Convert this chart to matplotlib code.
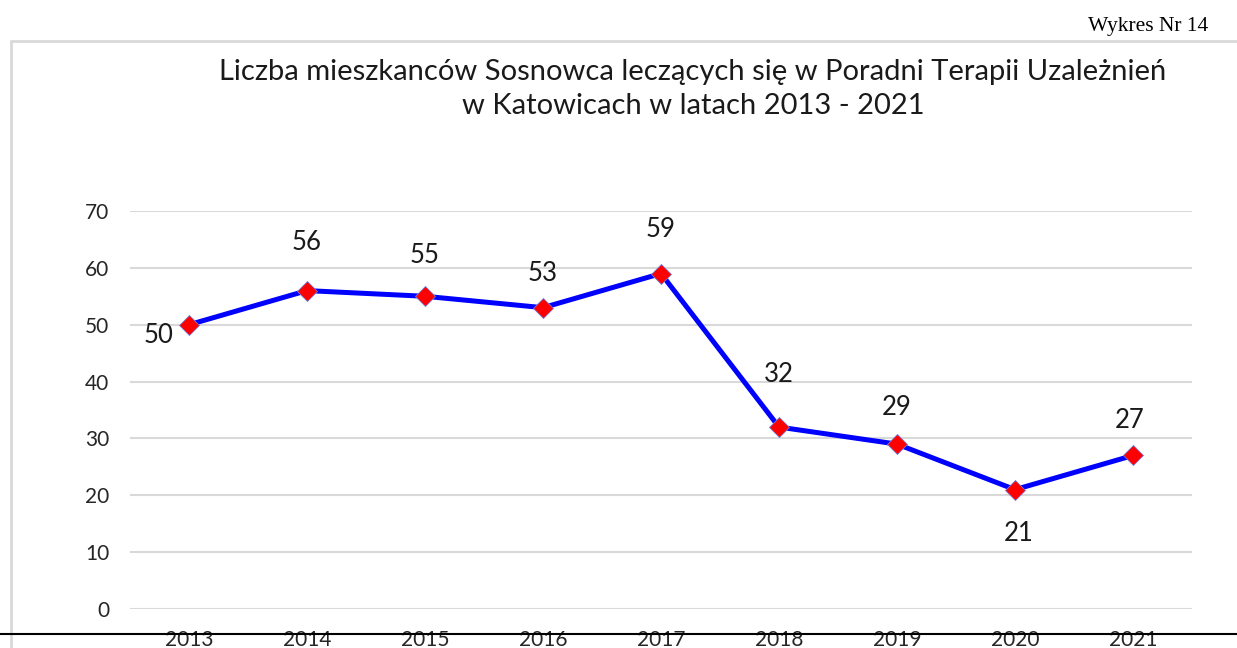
import matplotlib.pyplot as plt
from matplotlib.lines import Line2D
from matplotlib.patches import Rectangle

years = ["2013", "2014", "2015", "2016", "2017", "2018", "2019", "2020", "2021"]
patients = [50, 56, 55, 53, 59, 32, 29, 21, 27]
# label offset in pixels (dx, dy) relative to each point
label_offsets = [(-30, -11), (0, 48), (0, 41), (0, 34), (0, 44), (0, 53), (0, 37), (4, -44), (-3, 35)]
yticks = [0, 10, 20, 30, 40, 50, 60, 70]

W, H = 1237, 648
fig = plt.figure(figsize=(W / 100, H / 100), dpi=100)
px = 72 / 100  # points per pixel

# chart frame (clipped by page on right and bottom)
fig.patches.append(Rectangle((11 / W, -0.1), 1.2, (H - 41) / H + 0.1,
                             transform=fig.transFigure, fill=False,
                             edgecolor="#d9d9d9", linewidth=2.0))

ax = fig.add_axes([130 / W, 39 / H, 1062 / W, 398 / H])
x = list(range(len(years)))
ax.plot(x, patients, color="#0000ff", linewidth=3.6, zorder=3, clip_on=False)
ax.plot(x, patients, linestyle="none", marker="D", markersize=10.5,
        markerfacecolor="#ff0000", markeredgecolor="#7a7ad0",
        markeredgewidth=0.6, zorder=4, clip_on=False)

for xi, v, (dx, dy) in zip(x, patients, label_offsets):
    ax.annotate(str(v), (xi, v), xytext=(dx * px, dy * px),
                textcoords="offset points", ha="center", va="center",
                fontsize=18.5, family="Lato", color="#1a1a1a")

ax.set_xlim(-0.5, len(years) - 0.5)
ax.set_ylim(0, 70)
ax.set_yticks(yticks)
ax.set_xticks(x)
ax.set_xticklabels(years)
ax.grid(axis="y", color="#d9d9d9", linewidth=1.5)
ax.set_axisbelow(True)
for s in ax.spines.values():
    s.set_visible(False)
ax.tick_params(length=0, labelsize=15, labelcolor="#262626", pad=0)
ax.tick_params(axis="y", pad=15)
ax.tick_params(axis="x", pad=15)
for t in ax.get_xticklabels() + ax.get_yticklabels():
    t.set_family("Lato")

fig.text(693 / W, 1 - 72 / H, "Liczba mieszkanców Sosnowca leczących się w Poradni Terapii Uzależnień",
         ha="center", va="center", fontsize=21, family="Lato", color="#1a1a1a")
fig.text(693 / W, 1 - 106 / H, "w Katowicach w latach 2013 - 2021",
         ha="center", va="center", fontsize=21, family="Lato", color="#1a1a1a")

fig.text(1208 / W, 1 - 26 / H, "Wykres Nr 14", ha="right", va="center",
         fontsize=15.5, family="Liberation Serif", color="black")

# page break line across the bottom
fig.lines.append(Line2D([0, 1], [1 - 634 / H, 1 - 634 / H], transform=fig.transFigure,
                        color="black", linewidth=1.5, zorder=10))

fig.savefig("out.png", dpi=100, facecolor="white")
